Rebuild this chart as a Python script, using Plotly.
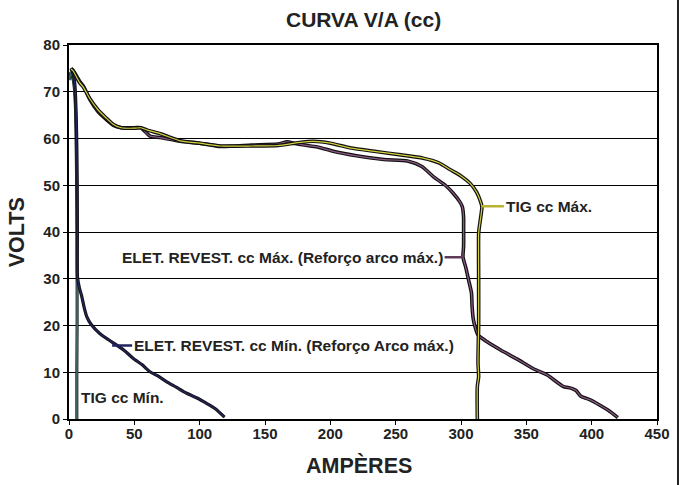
import plotly.graph_objects as go

# ---- data (amperes, volts) ----
tig_max_a = [1.5, 3, 8, 11, 16, 22, 28, 34, 40, 50, 55, 60, 70, 85, 100, 116, 140, 160, 175, 187,
             200, 215, 235, 254, 271, 283, 292, 300, 307, 312, 315, 316, 315, 314, 313.5, 313.5,
             313.5, 313, 313.5, 312.5, 312.5]
tig_max_v = [74.8, 74.5, 72, 71, 68.5, 66.2, 64.5, 63, 62.3, 62.2, 62.3, 61.8, 61, 59.5, 59, 58.4,
             58.4, 58.5, 59.1, 59.4, 59, 58, 57.2, 56.5, 55.8, 54.8, 53.3, 52, 50.4, 48.5, 46.5,
             45.4, 43, 41, 39.7, 30, 20, 12, 9, 7, 0]

elet_max_a = [1.5, 3, 8, 11, 16, 22, 28, 34, 40, 50, 55, 62, 70, 85, 100, 116, 140, 160, 167, 172,
              180, 190, 203, 220, 241, 259, 270, 279, 288, 294, 299, 301, 302, 302, 302, 301.5,
              302.5, 303.5, 306, 308, 308.5, 309.5, 311, 313, 320, 330, 343, 355, 366, 378, 384,
              388, 392, 398, 406, 413, 420]
elet_max_v = [75, 74.6, 72.3, 71.2, 68.3, 65.8, 64.2, 62.8, 62.3, 62.3, 62.3, 60.5, 60.2, 59.4, 59,
              58.3, 58.6, 58.8, 59.3, 59.0, 58.6, 58.2, 57.2, 56.3, 55.5, 55.2, 54, 51.8, 50, 48.3,
              46.5, 45.4, 43, 41, 37, 34.7, 33.5, 32.6, 29.5, 27, 24, 21.2, 19.5, 18, 16.5, 14.8,
              12.8, 10.8, 9.4, 7, 6.6, 6.1, 4.8, 4.2, 3, 1.8, 0.3]

elet_min_a = [1.5, 3, 4.5, 5.5, 6, 6.3, 6.4, 6.5, 8, 9.8, 11.5, 13.6, 17, 23.5, 30, 36.5, 43, 49,
              56, 62, 68, 74.5, 82, 90, 98, 105, 112, 119]
elet_min_v = [75, 74, 71.5, 65, 58, 50, 40, 30.4, 28, 26.2, 24, 21.9, 20.2, 18.3, 17, 15.8, 14.5,
              13, 11.6, 10.1, 9.2, 8, 6.8, 5.5, 4.5, 3.4, 2.2, 0.4]

tig_min_a = [0.5, 1.2, 2.5, 4, 5, 5.5, 6, 6.2, 6.2, 6, 6]
tig_min_v = [72.5, 74, 73.5, 71, 66, 58, 45, 30, 20, 10, 0]

x_ticks = [0, 50, 100, 150, 200, 250, 300, 350, 400, 450]
y_ticks = [0, 10, 20, 30, 40, 50, 60, 70, 80]

FONT = "Liberation Sans, Arial, sans-serif"
TXT = "#222222"

fig = go.Figure()

def add_curve(xs, ys, inner, outer_w=3.2, inner_w=1.2):
    fig.add_trace(go.Scatter(x=xs, y=ys, mode="lines",
                             line=dict(color="#111111", width=outer_w, shape="spline", smoothing=0.6),
                             hoverinfo="skip", showlegend=False))
    fig.add_trace(go.Scatter(x=xs, y=ys, mode="lines",
                             line=dict(color=inner, width=inner_w, shape="spline", smoothing=0.6),
                             showlegend=False))

add_curve(tig_min_a, tig_min_v, "#3f6363", outer_w=3, inner_w=2)
add_curve(elet_min_a, elet_min_v, "#23235e", outer_w=3.2, inner_w=1.4)
add_curve(elet_max_a, elet_max_v, "#8e5a88", outer_w=3.6, inner_w=1.2)
add_curve(tig_max_a, tig_max_v, "#d4d040", outer_w=3.6, inner_w=1.2)

lab_font = dict(family=FONT, size=15.5, color=TXT, weight="bold")
fig.add_annotation(x=316, y=45.5, text="TIG cc Máx.", showarrow=True, arrowhead=0,
                   arrowwidth=2.5, arrowcolor="#b8b430", ax=22, ay=0, xanchor="left",
                   font=lab_font)
fig.add_annotation(x=302, y=34.6, text="ELET. REVEST. cc Máx. (Reforço arco máx.)", showarrow=True,
                   arrowhead=0, arrowwidth=2.5, arrowcolor="#5e3a58", ax=-19, ay=0,
                   xanchor="right", font=lab_font)
fig.add_annotation(x=33, y=15.7, text="ELET. REVEST. cc Mín. (Reforço Arco máx.)", showarrow=True,
                   arrowhead=0, arrowwidth=2.5, arrowcolor="#23235e", ax=20, ay=0,
                   xanchor="left", font=lab_font)
fig.add_annotation(x=7.5, y=4.5, text="TIG cc Mín.", showarrow=False, xanchor="left",
                   font=lab_font)

# axis titles and chart title as paper annotations
fig.add_annotation(xref="paper", yref="paper", x=-0.088, y=0.5, text="VOLTS", textangle=-90,
                   showarrow=False, xanchor="center", yanchor="middle",
                   font=dict(family=FONT, size=21.5, color=TXT, weight="bold"))
fig.add_annotation(xref="paper", yref="paper", x=0.493, y=-0.123, text="AMPÈRES",
                   showarrow=False, xanchor="center", yanchor="middle",
                   font=dict(family=FONT, size=21.5, color=TXT, weight="bold"))
fig.add_annotation(xref="paper", yref="paper", x=0.5, y=1.067, text="CURVA V/A (cc)",
                   showarrow=False, xanchor="center", yanchor="middle",
                   font=dict(family=FONT, size=21, color=TXT, weight="bold"))

# right-hand frame line of the page
fig.add_shape(type="line", xref="paper", yref="paper", x0=1.0357, x1=1.0357, y0=-0.3, y1=1.3,
              line=dict(color="#222222", width=2))

fig.update_layout(
    width=680, height=485,
    margin=dict(l=69, r=23, t=45, b=66, autoexpand=False),
    paper_bgcolor="white", plot_bgcolor="white",
    xaxis=dict(range=[0, 450], tickvals=x_ticks, ticks="outside", ticklen=4, tickwidth=1,
               tickcolor="#000", showgrid=False, zeroline=False, showline=True, linecolor="#000",
               linewidth=2, mirror=True, automargin=False, ticklabelstandoff=-4,
               tickfont=dict(family=FONT, size=15, color=TXT, weight="bold")),
    yaxis=dict(range=[0, 80], tickvals=y_ticks, ticks="outside", ticklen=4, tickwidth=1,
               tickcolor="#000", showgrid=True, gridcolor="#000", gridwidth=1, zeroline=False,
               showline=True, linecolor="#000", linewidth=2, mirror=True, automargin=False,
               tickfont=dict(family=FONT, size=15, color=TXT, weight="bold")),
)

fig.write_html("out.html", config={"displayModeBar": False},
               post_script="document.body.style.margin='0';document.body.style.overflow='hidden';")
